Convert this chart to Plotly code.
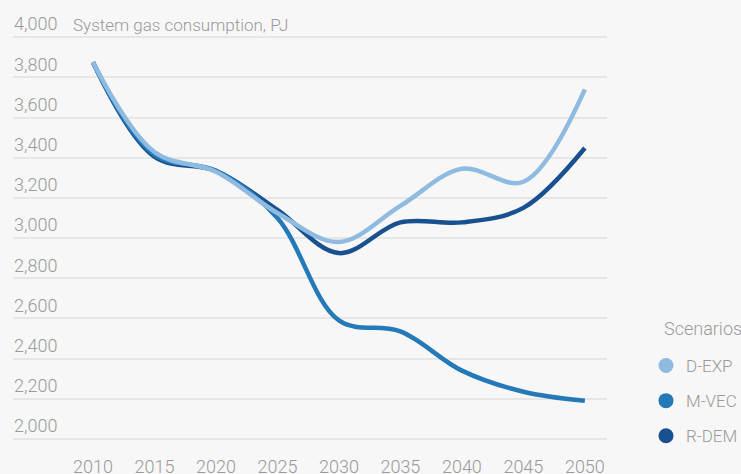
import plotly.graph_objects as go

years = [2010, 2015, 2020, 2025, 2030, 2035, 2040, 2045, 2050]
d_exp = [3875, 3428, 3330, 3125, 2980, 3160, 3345, 3280, 3740]
m_vec = [3875, 3415, 3335, 3100, 2590, 2535, 2340, 2235, 2190]
r_dem = [3875, 3405, 3335, 3140, 2925, 3078, 3078, 3150, 3448]

series_names = ["D-EXP", "M-VEC", "R-DEM"]
series_values = [d_exp, m_vec, r_dem]
colors = ["#8fbbe0", "#2479b9", "#19508f"]

y_ticks = [2000, 2200, 2400, 2600, 2800, 3000, 3200, 3400, 3600, 3800, 4000]
y_ticktext = [f"{v:,}" for v in y_ticks]
x_ticks = years

FONT = "Roboto"
GREY = "#9a9a9a"

fig = go.Figure()
for name, vals, col in reversed(list(zip(series_names, series_values, colors))):
    fig.add_trace(go.Scatter(
        x=years, y=vals, mode="lines", name=name,
        line=dict(color=col, width=4.5, shape="spline", smoothing=1.0),
        showlegend=False, hoverinfo="skip",
    ))
for name, col in zip(series_names, colors):
    fig.add_trace(go.Scatter(
        x=[None], y=[None], mode="markers", name=name,
        marker=dict(color=col, size=15, symbol="circle"),
        legendgroup=name, showlegend=True,
    ))

Y_TOP = 4150
PX_PER_UNIT = 402 / 2000
top_margin = round(37 - (Y_TOP - 4000) * PX_PER_UNIT)
plot_h = 474 - 23 - top_margin

fig.update_layout(
    width=741, height=474,
    margin=dict(l=13, r=134, t=top_margin, b=23),
    paper_bgcolor="#f7f7f7", plot_bgcolor="#f7f7f7",
    font=dict(family=FONT, size=18, color=GREY, weight=300),
    title=dict(text="System gas consumption, PJ", x=73/741, xanchor="left",
               xref="container", y=1-25/474, yref="container", yanchor="middle",
               font=dict(family=FONT, size=17, color=GREY, weight=300)),
    xaxis=dict(range=[2003.5, 2051.8], tickvals=x_ticks, showgrid=False,
               zeroline=False, showline=False, ticks="", ticklabelstandoff=3,
               automargin=False, tickfont=dict(size=18, color=GREY)),
    yaxis=dict(range=[1940, Y_TOP], tickvals=y_ticks, ticktext=y_ticktext,
               showgrid=True, gridcolor="#e6e6e6", gridwidth=1.5,
               zeroline=False, showline=False, ticks="", automargin=False,
               ticklabelposition="inside", ticklabelshift=-13, ticklabelstandoff=-2,
               tickfont=dict(size=18, color=GREY)),
    legend=dict(x=646/741, xref="container", y=1-348/474, yref="container",
                xanchor="left", yanchor="top",
                traceorder="grouped", tracegroupgap=10,
                font=dict(size=17, color=GREY), itemwidth=30,
                bgcolor="rgba(0,0,0,0)"),
    annotations=[dict(text="Scenarios", xref="paper", yref="paper",
                      x=(662-13)/594, y=1-(328-top_margin)/plot_h, xanchor="left",
                      yanchor="middle", showarrow=False,
                      font=dict(size=18, color=GREY))],
)

fig.write_html("out.html", config={"displayModeBar": False},
               post_script="document.body.style.margin='0';")
